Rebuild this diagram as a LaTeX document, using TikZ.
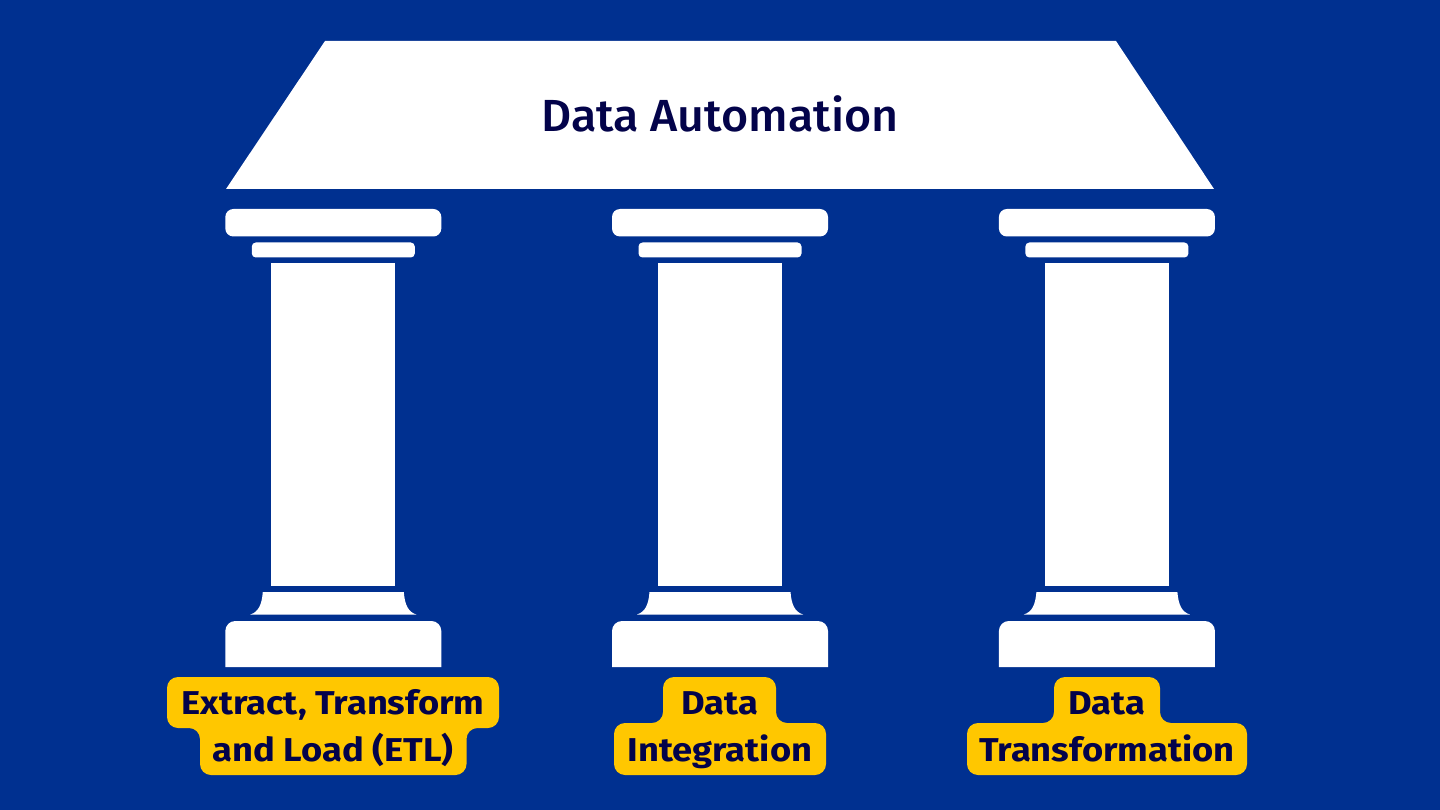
\documentclass[tikz,border=0pt]{standalone}
\usepackage{fontspec}
\setmainfont{Fira Sans}
\newfontfamily\tagfont[FakeStretch=1.1]{Fira Sans Bold}
\newfontfamily\titlefont[FakeStretch=1.035]{Fira Sans Medium}
\definecolor{bgblue}{HTML}{003090}
\definecolor{labelyellow}{HTML}{FFC700}
\definecolor{inkblue}{HTML}{03034A}
\tikzset{
  stone/.style={fill=white,draw=none},
  tag/.style={fill=labelyellow,draw=none,rounded corners=11pt},
  tagtext/.style={text=inkblue,font=\fontsize{33}{40}\selectfont\tagfont,inner sep=0pt,anchor=base},
  titletext/.style={text=inkblue,font=\fontsize{45}{54}\selectfont\titlefont,inner sep=0pt,anchor=base}
}
\newcommand{\pillarat}[1]{%
  \begin{scope}[xshift=#1pt]
    \fill[stone,rounded corners=8pt] (-108,209) rectangle (108,236.5);
    \fill[stone,rounded corners=4pt] (-81.5,242.5) rectangle (81.5,257.5);
    \fill[stone] (-62,263) rectangle (62,586);
    \fill[stone] (-70.5,592) -- (70.5,592) .. controls (71.5,605) and (75,612) .. (83,614.5)
       -- (-83,614.5) .. controls (-75,612) and (-71.5,605) .. (-70.5,592) -- cycle;
    \fill[stone] (-108,667) [rounded corners=10pt] -- (-108,621) -- (108,621) [sharp corners] -- (108,667) -- cycle;
  \end{scope}}
\begin{document}
\begin{tikzpicture}[x=1pt,y=-1pt]
\useasboundingbox (0,0) rectangle (1440,810);
\fill[bgblue] (0,0) rectangle (1440,810);
\fill[stone] (325,41) -- (1116,41) -- (1214,189) -- (226,189) -- cycle;
\node[titletext] (title) at (720,131.5) {Data Automation};
\pillarat{333.3}
\pillarat{720}
\pillarat{1106.9}
\fill[tag] (167,677) -- (499,677) -- (499,728) -- (466.5,728) -- (466.5,775) -- (200,775) -- (200,728) -- (167,728) -- cycle;
\fill[tag] (663,677) -- (776,677) -- (776,723) -- (826,723) -- (826,775) -- (614,775) -- (614,723) -- (663,723) -- cycle;
\fill[tag] (1054,677) -- (1160,677) -- (1160,723) -- (1247,723) -- (1247,775) -- (967,775) -- (967,723) -- (1054,723) -- cycle;
\node[tagtext] (etlA) at (333,714) {Extract, Transform};
\node[tagtext] (etlB) at (333,761) {and Load (ETL)};
\node[tagtext] (intA) at (720,714) {Data};
\node[tagtext] (intB) at (720,761) {Integration};
\node[tagtext] (trA) at (1107,714) {Data};
\node[tagtext] (trB) at (1107,761) {Transformation};
\end{tikzpicture}
\end{document}
